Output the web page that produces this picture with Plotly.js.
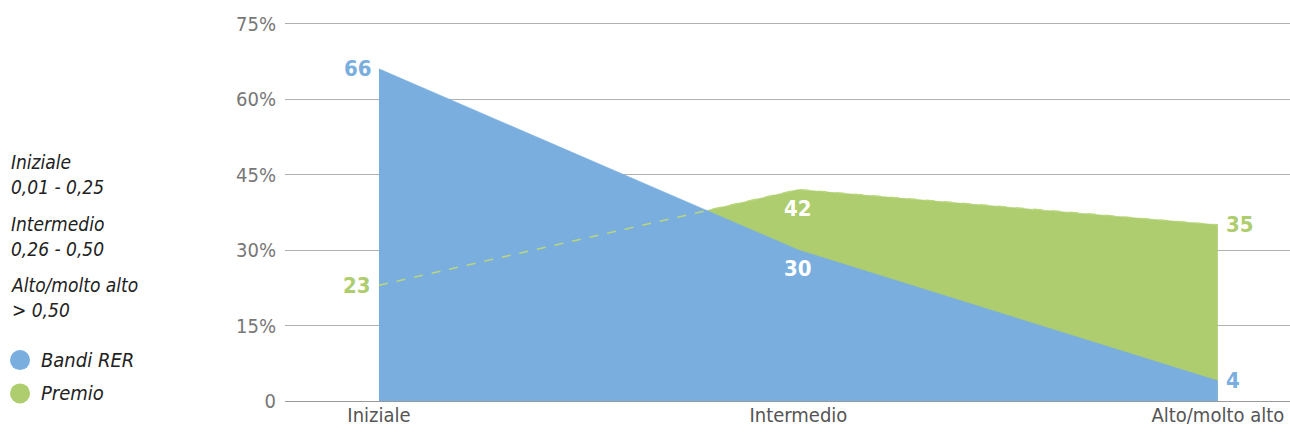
<!DOCTYPE html>
<html><head><meta charset="utf-8">
<script src="https://cdn.plot.ly/plotly-3.0.1.min.js"></script>
<style>html,body{margin:0;padding:0;background:#fff}#c{width:1290px;height:436px}
svg text{font-stretch:condensed !important}</style>
</head><body><div id="c"></div>
<script>
const categories = ["Iniziale", "Intermedio", "Alto/molto alto"];
const categoryRanges = ["0,01 - 0,25", "0,26 - 0,50", "> 0,50"];
const seriesNames = ["Bandi RER", "Premio"];
const bandiRER = [66, 30, 4];
const premio = [23, 42, 35];
const yTicks = [0, 15, 30, 45, 60, 75];
const yTickLabels = ["0", "15%", "30%", "45%", "60%", "75%"];

const BLUE = "#7aaede", GREEN = "#adcd6e";
const FONT = "'DejaVu Sans', sans-serif";
const xi = categories.map((_, i) => i);

const traces = [
  {x: xi, y: premio, type: "scatter", mode: "lines", fill: "tozeroy", fillcolor: GREEN,
   line: {color: GREEN, width: 0.5}, showlegend: false, hoverinfo: "skip"},
  {x: xi, y: bandiRER, type: "scatter", mode: "lines", fill: "tozeroy", fillcolor: BLUE,
   line: {color: BLUE, width: 0.5}, showlegend: false, hoverinfo: "skip"},
  {x: xi, y: premio, type: "scatter", mode: "lines",
   line: {color: "#b9d77a", width: 1.5, dash: "dash"}, showlegend: false, hoverinfo: "skip"}
];

const annotations = [];
const shapes = [];
const bold = s => "<b>" + s + "</b>";
const LBL = 22;
annotations.push({x: 0, y: bandiRER[0], text: bold(bandiRER[0]), showarrow: false, xanchor: "right", yanchor: "middle", xshift: -5, font: {family: FONT, size: LBL, color: BLUE}});
annotations.push({x: 1, y: bandiRER[1], text: bold(bandiRER[1]), showarrow: false, xanchor: "center", yanchor: "top", yshift: -4, font: {family: FONT, size: LBL, color: "#ffffff"}});
annotations.push({x: 2, y: bandiRER[2], text: bold(bandiRER[2]), showarrow: false, xanchor: "left", yanchor: "middle", xshift: 6, font: {family: FONT, size: LBL, color: BLUE}});
annotations.push({x: 0, y: premio[0], text: bold(premio[0]), showarrow: false, xanchor: "right", yanchor: "middle", xshift: -6, font: {family: FONT, size: LBL, color: GREEN}});
annotations.push({x: 1, y: premio[1], text: bold(premio[1]), showarrow: false, xanchor: "center", yanchor: "top", yshift: -4, font: {family: FONT, size: LBL, color: "#ffffff"}});
annotations.push({x: 2, y: premio[2], text: bold(premio[2]), showarrow: false, xanchor: "left", yanchor: "middle", xshift: 6, font: {family: FONT, size: LBL, color: GREEN}});

// category descriptions on the left
const descY = [0.598, 0.434, 0.274];
categories.forEach((c, i) => {
  annotations.push({xref: "paper", yref: "paper", x: -0.275, y: descY[i], xanchor: "left", yanchor: "middle",
    text: "<i>" + c + "<br>" + categoryRanges[i] + "</i>", align: "left", showarrow: false,
    font: {family: FONT, size: 19, color: "#222"}});
});

// legend (circles + italic names)
const legY = [0.108, 0.02];
const legColors = [BLUE, GREEN];
seriesNames.forEach((n, i) => {
  shapes.push({type: "circle", xref: "paper", yref: "paper", x0: -0.2736, x1: -0.2537,
    y0: legY[i] - 0.0265, y1: legY[i] + 0.0265, fillcolor: legColors[i], line: {width: 0}});
  annotations.push({xref: "paper", yref: "paper", x: -0.2448, y: legY[i], xanchor: "left", yanchor: "middle",
    text: "<i>" + n + "</i>", showarrow: false, font: {family: FONT, size: 20, color: "#222"}});
});

const layout = {
  width: 1290, height: 436,
  margin: {l: 285, r: 0, t: 22, b: 35},
  paper_bgcolor: "#fff", plot_bgcolor: "#fff",
  font: {family: FONT, size: 20, color: "#666"},
  xaxis: {range: [-0.224, 2.172], tickmode: "array", tickvals: xi, ticktext: categories,
          showgrid: false, zeroline: false, showline: false, ticks: "", fixedrange: true,
          tickfont: {family: FONT, size: 20, color: "#555"}},
  yaxis: {range: [0, 75.3], tickmode: "array", tickvals: yTicks, ticktext: yTickLabels,
          showgrid: true, gridcolor: "#b0b0b0", gridwidth: 1, zeroline: true, zerolinecolor: "#999",
          showline: false, ticks: "", ticklen: 0, fixedrange: true, ticklabelstandoff: 8,
          tickfont: {family: FONT, size: 20, color: "#777"}},
  showlegend: false,
  shapes: shapes,
  annotations: annotations
};

Plotly.newPlot("c", traces, layout, {displayModeBar: false, staticPlot: true});
</script></body></html>
